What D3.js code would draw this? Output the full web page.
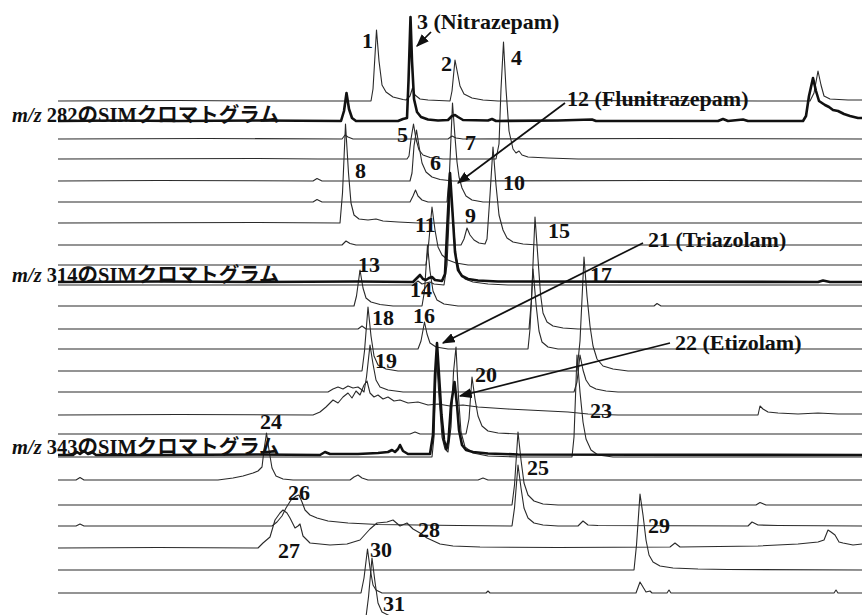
<!DOCTYPE html>
<html>
<head>
<meta charset="utf-8">
<script src="https://cdn.jsdelivr.net/npm/d3@7"></script>
<style>
body { margin: 0; background: #fff; }
</style>
</head>
<body>
<svg id="chart"></svg>
<script>
// scan number vs. relative intensity, one array per SIM trace
const tr01 = [[0,0],[120,0.5],[200,0],[313,0],[315,12],[318.5,71],[321,40],[324,16],[328,9],[335,4],[345,1.5],[348,1],[352,5],[354.5,13],[357,6],[362,2],[370,1],[392,0],[394,10],[397,41],[399.5,28],[402,15],[406,7],[414,3],[425,1],[440,0],[600,0.5],[700,0],[752,0],[756,8],[760,30],[763,16],[766,5],[772,2],[790,1],[804,1]];
const tr02 = [[0,0],[60,0.5],[120,0],[200,0.5],[283,0],[286,10],[288.5,28],[291,12],[294,3],[298,0],[340,0],[345,2],[349,3],[350.5,40],[352.5,104],[354,60],[356,22],[359,9],[363,4],[370,1.5],[380,0.5],[390,1],[394,5],[397,6],[400,4],[405,1],[430,0.5],[434,2],[438,0],[500,0.5],[534,1.5],[538,0],[660,0],[665,2],[670,0],[685,1.5],[690,0],[745,0],[748,5],[751,25],[755,43],[758,30],[761,20],[767,16],[771,14],[775,11],[780,10],[786,7],[792,5],[800,3],[804,3]];
const tr03 = [[0,0],[150,0.5],[284,0],[287,4],[290,2],[295,0],[390,0],[394,3],[398,1],[405,0],[600,0.5],[804,0]];
const tr04 = [[0,0],[200,0.5],[260,0],[349,0],[351,3],[353,20],[355.5,35],[358,20],[361,9],[365,4],[372,1.5],[385,0],[438,0],[441,15],[443,70],[445.5,117],[448,70],[451,28],[455,10],[458,6],[461,8],[464,4],[470,2],[490,1],[520,0],[804,0]];
const tr05 = [[0,0],[100,0.5],[255,0],[259,2.5],[264,0],[352,0],[354,8],[356,35],[358.5,51],[361,35],[364,18],[368,9],[374,4],[382,1.5],[395,0],[600,0.5],[804,0]];
const tr06 = [[0,0],[255,0],[259,2.5],[264,0],[352,0],[355,6],[357.5,12],[360,6],[364,2],[370,0],[389,0],[391.5,30],[394.5,99],[397,65],[399,40],[401,25],[404,14],[408,6],[414,2],[425,0],[804,0]];
const tr07 = [[0,0],[200,0.5],[282,0],[284.5,30],[287.5,99],[290.5,50],[293,20],[296,8],[301,4],[310,3],[318,4],[325,2],[340,1],[360,0],[804,0]];
const tr08 = [[0,0],[284,0],[288,4],[292,1.5],[298,0],[403,0],[406,6],[409,17],[412,10],[416,5],[421,2],[427,1],[429,6],[432,50],[435,98],[438,60],[441,30],[445,15],[449,7],[455,3],[465,1],[480,0],[804,0]];
const tr09 = [[0,0],[368,0],[370.5,20],[374,58],[377,35],[380,18],[384,10],[390,5],[398,2],[410,0],[804,0]];
const tr10 = [[0,0],[100,0.5],[200,0],[300,0.5],[355,0],[359,4],[362,7],[365,3],[368,2],[371,4],[374,5],[377,2],[384,1],[387,8],[389.5,60],[392,109],[394.5,70],[397,30],[400,12],[404,6],[410,3],[420,1.5],[440,0.5],[760,0],[765,1.5],[772,0],[804,0]];
const tr11 = [[0,0],[355,0],[360,4],[364,1],[372,3],[376,1],[386,0],[389,20],[392.5,100],[395.5,60],[398,28],[402,12],[407,6],[415,3],[430,1],[450,0],[804,0]];
const tr12 = [[0,0],[296,0],[298.5,10],[302,36],[305,18],[308,8],[313,4],[322,1.5],[335,0],[364,0],[366.5,15],[369.5,61],[372,35],[375,15],[379,6],[386,2],[400,0],[596,0],[599,2.5],[603,0],[804,0]];
const tr13 = [[0,0],[300,0],[304,3],[308,0],[471,0],[473.5,30],[477,112],[480,70],[482.5,35],[485,16],[489,7],[495,3],[505,1],[520,0],[804,0]];
const tr14 = [[0,0],[360,0],[363,8],[366.5,27],[369,15],[372,6],[378,2],[390,0],[470,0],[472,20],[475,80],[478,45],[481,18],[484,7],[490,2],[500,0],[804,0]];
const tr15 = [[0,0],[304,0],[306.5,20],[310,64],[313,35],[316,15],[320,6],[328,2],[340,0],[519,0],[522,30],[526,114],[529,75],[532,45],[535,25],[539,12],[545,5],[555,2],[570,0],[804,0]];
const tr16 = [[0,0],[270,0],[275,3],[280,5],[285,3],[290,6],[295,4],[300,5],[304,2],[306,0],[308.5,15],[312,47],[315,28],[318,12],[322,5],[330,2],[345,0],[516,0],[519,10],[522,37],[525,22],[528,12],[532,6],[538,3],[548,1],[560,0],[804,0]];
const tr17 = [[0,0],[120,0.5],[255,0],[262,3],[268,8],[275,15],[280,12],[285,18],[290,22],[294,17],[298,24],[302,20],[306,30],[309,34],[312,22],[316,18],[320,20],[325,16],[330,18],[336,14],[342,15],[350,12],[360,13],[370,10],[380,11],[392,9],[405,10],[420,8],[435,7],[450,6],[470,5],[490,4],[510,3],[530,1],[560,0],[700,0],[702,9],[705,6],[710,3],[720,2],[740,1],[760,2],[780,1],[804,1]];
const tr18 = [[0,0],[352,0],[357,2],[362,0],[408,0],[411,15],[414,57],[417,35],[420,18],[424,8],[430,3],[440,1],[460,0],[804,0]];
const tr19 = [[0,0],[15,0],[19,3],[22,1],[26,4],[30,1],[34,3],[38,0],[100,0],[200,0.5],[262,0],[267,3],[272,1],[300,1],[320,2],[330,3],[334,5],[337,3],[340,6],[342,10],[345,4],[350,1],[372,1],[375,20],[377,80],[379,112],[381,80],[383.5,40],[386,15],[388.5,6],[390.5,15],[393,50],[396.5,73],[399,50],[401,25],[404,10],[408,5],[415,3],[430,1.5],[460,0.5],[804,0]];
const tr20 = [[0,0],[300,0],[374,0],[376,20],[378.5,100],[381,60],[384,20],[387,8],[390,5],[393,30],[395.5,85],[398,110],[400.5,60],[403,25],[407,10],[415,4],[430,1],[460,0],[514,0],[516,20],[519,102],[522,65],[525,35],[528,18],[533,7],[540,2],[555,0],[804,0]];
const tr21 = [[0,0],[18,0],[22,2.5],[26,0],[160,0],[175,2],[185,4],[195,7],[200,9],[204,13],[206,30],[208.5,47],[211,30],[214,12],[218,4],[225,1],[235,0],[292,0],[296,3],[300,5],[304,2],[310,0],[420,0],[425,2],[430,0],[804,0]];
const tr22 = [[0,0],[454,0],[456.5,20],[460,73],[463,45],[466,22],[470,10],[476,4],[485,1],[500,0],[698,0],[702,2.5],[708,0],[804,0]];
const tr23 = [[0,0],[18,0],[22,2],[26,0],[214,0],[219,4],[224,10],[228,18],[233,26],[238,30],[241,31],[244,24],[247,16],[252,11],[259,8],[270,5],[290,3],[320,1.5],[360,1],[400,0.5],[454,0],[456.5,18],[460,61],[463,38],[466,18],[470,8],[476,3],[485,1],[500,0],[520,0],[525,5],[530,1],[540,0.5],[690,0],[694,4],[700,1],[720,0.5],[804,0]];
const tr24 = [[0,0],[100,0.5],[200,0],[205,5],[212,11],[217,28],[222,35],[225,38],[229,35],[232,30],[237,20],[240,22],[242,24],[245,12],[252,5],[272,3],[289,4],[302,8],[312,19],[319,25],[329,26],[335,28],[342,22],[349,25],[355,19],[362,15],[369,10],[382,4],[395,2],[422,1],[500,0.5],[612,1],[617,5],[622,1],[700,2],[740,4],[760,6],[766,8],[770,18],[773,16],[777,13],[781,6],[785,5],[795,3],[804,4]];
const tr25 = [[0,0],[576,0],[578.5,25],[582,76],[585,55],[588,30],[591,15],[595,8],[602,4],[615,2],[640,1],[670,0.5],[804,0]];
const tr26 = [[0,0],[303,0],[306,15],[309.5,44],[312,25],[315,8],[318,3],[324,0],[428,0],[430,2],[432,0],[578,0],[582,11],[585,6],[588,1],[592,2],[594,0],[609,0],[611,3],[613,0],[776,0],[778,3],[780,0],[804,0]];
const tr27 = [[0,0],[308,0],[310.5,20],[314,59],[317,35],[320,14],[324,5],[332,1],[350,0],[804,0]];

const traces = [tr01, tr02, tr03, tr04, tr05, tr06, tr07, tr08, tr09, tr10, tr11, tr12, tr13, tr14,
  tr15, tr16, tr17, tr18, tr19, tr20, tr21, tr22, tr23, tr24, tr25, tr26, tr27];
// stacking offset of each trace (intensity units)
const offsets = [492, 472, 454, 434, 412, 391, 370, 348, 328, 311, 308, 287, 264, 244,
  222, 201, 178, 159, 138, 136, 113, 88, 67, 45, 23, 0, -24];
// the bold traces are the m/z 282, 314 and 343 SIM chromatograms
const boldTrace = [false, true, false, false, false, false, false, false, false, true, false, false, false, false,
  false, false, false, false, true, false, false, false, false, false, false, false, false];

const peakLabels = ["1", "3 (Nitrazepam)", "2", "4", "12 (Flunitrazepam)", "5", "7", "6", "8", "10", "9", "11",
  "15", "21 (Triazolam)", "13", "14", "17", "16", "18", "22 (Etizolam)", "19", "20", "23", "24", "25",
  "26", "27", "28", "29", "30", "31"];
const labelScan = [304, 359, 383, 453, 509, 339, 407, 372, 297, 445, 407, 357,
  490, 590, 300, 352, 532, 355, 314, 617, 317, 417, 532, 202, 469,
  230, 220, 360, 590, 312, 325];
const labelLevel = [545, 564, 522, 528, 487, 451, 443, 423, 415, 403, 370, 361,
  355, 346, 321, 296, 311, 270, 268, 243, 225, 211, 175, 164, 118,
  93, 35, 56, 60, 36, -18];

// arrows: [fromScan, fromLevel, toScan, toLevel]
const arrows = [[373, 561, 359, 547], [507, 490, 400, 410], [585, 350, 385, 250], [612, 250, 402, 197]];

const groupMz = ["282", "314", "343"];
const groupLevel = [471, 311, 139];

const W = 862, H = 615;
const svg = d3.select("#chart").attr("width", W).attr("height", H)
  .style("background", "#fff");

const x = d3.scaleLinear().domain([0, 804]).range([58, 862]);
const y = d3.scaleLinear().domain([-22, 593]).range([615, 0]);

svg.append("defs").append("marker")
  .attr("id", "head")
  .attr("viewBox", "0 0 10 10")
  .attr("refX", 9).attr("refY", 5)
  .attr("markerWidth", 13).attr("markerHeight", 10)
  .attr("markerUnits", "userSpaceOnUse")
  .attr("orient", "auto")
  .attr("preserveAspectRatio", "none")
  .append("path").attr("d", "M0,0L10,5L0,10Z").attr("fill", "#111");

const order = d3.range(traces.length).sort((a, b) => boldTrace[a] - boldTrace[b]);

svg.append("g")
  .selectAll("path")
  .data(order)
  .join("path")
  .attr("fill", "none")
  .attr("stroke", i => boldTrace[i] ? "#111" : "#2a2a2a")
  .attr("stroke-width", i => boldTrace[i] ? 2.6 : 1.1)
  .attr("stroke-linejoin", "round")
  .attr("d", i => d3.line()
    .x(d => x(d[0]))
    .y(d => y(d[1] + offsets[i]))(traces[i]));

const serif = "'Liberation Serif', 'Times New Roman', serif";
const cjk = "'Noto Sans CJK JP', sans-serif";

svg.append("g")
  .selectAll("text")
  .data(peakLabels)
  .join("text")
  .attr("x", (d, i) => x(labelScan[i]))
  .attr("y", (d, i) => y(labelLevel[i]))
  .attr("font-family", serif)
  .attr("font-weight", "bold")
  .attr("font-size", 22)
  .attr("fill", "#111")
  .text(d => d);

svg.append("g")
  .selectAll("line")
  .data(arrows)
  .join("line")
  .attr("x1", d => x(d[0])).attr("y1", d => y(d[1]))
  .attr("x2", d => x(d[2])).attr("y2", d => y(d[3]))
  .attr("stroke", "#111")
  .attr("stroke-width", 1.7)
  .attr("marker-end", "url(#head)");

const titles = svg.append("g")
  .selectAll("text")
  .data(groupMz)
  .join("text")
  .attr("x", x(-46))
  .attr("y", (d, i) => y(groupLevel[i]))
  .attr("font-size", 20.5)
  .attr("font-weight", "bold")
  .attr("fill", "#111");
titles.append("tspan").attr("font-family", serif).attr("font-style", "italic").text("m/z");
titles.append("tspan").attr("font-family", serif).text(d => " " + d);
titles.append("tspan").attr("font-family", cjk).text("の");
titles.append("tspan").attr("font-family", serif).text("SIM");
titles.append("tspan").attr("font-family", cjk).text("クロマトグラム");
</script>
</body>
</html>
